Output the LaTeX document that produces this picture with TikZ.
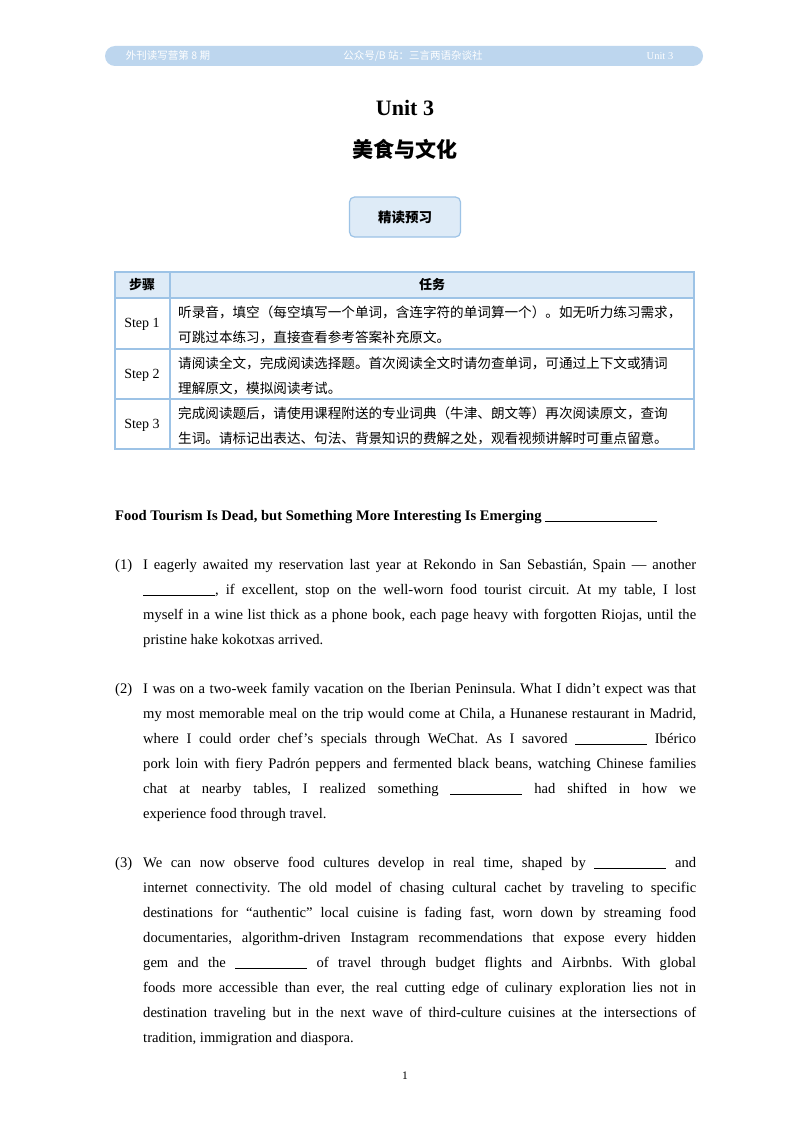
\documentclass[tikz,border=0pt]{standalone}
\usepackage{fontspec}
\setmainfont{Liberation Serif}
\newfontfamily\cjk{Noto Sans CJK SC}
\definecolor{barblue}{RGB}{189,214,238}
\definecolor{lineblue}{RGB}{157,195,230}
\definecolor{fillblue}{RGB}{222,235,247}
\newcommand{\blank}{\rule[-1pt]{72pt}{0.6pt}}
\tikzset{
 para/.style={anchor=north west,text width=553pt,align=justify,inner sep=0pt,font=\fontsize{14.6pt}{25pt}\selectfont\frenchspacing},
 num/.style={anchor=north west,inner sep=0pt,font=\fontsize{14.6pt}{25pt}\selectfont},
 cell/.style={anchor=west,text width=520pt,align=left,inner sep=0pt,font=\cjk\fontsize{13.6pt}{25pt}\selectfont},
 stepl/.style={inner sep=0pt,font=\fontsize{14pt}{15pt}\selectfont}
}
\begin{document}
\begin{tikzpicture}[x=1pt,y=-1pt]
\useasboundingbox (0,0) rectangle (800,1132);
\fill[white] (0,0) rectangle (800,1132);
% header bar
\fill[barblue,rounded corners=10pt] (105,46) rectangle (703,66);
\node[white,font=\cjk\fontsize{10.5pt}{12pt}\selectfont] (h1) at (168,56) {外刊读写营第 8 期};
\node[white,font=\cjk\fontsize{10.5pt}{12pt}\selectfont] (h2) at (413,56) {公众号/B 站：三言两语杂谈社};
\node[white,font=\fontsize{10.5pt}{12pt}\selectfont] (h3) at (660,56) {Unit 3};
% titles
\node[font=\bfseries\fontsize{22pt}{24pt}\selectfont] (t1) at (405,108) {Unit 3};
\node[font=\cjk\bfseries\fontsize{21pt}{24pt}\selectfont] (t2) at (405,149) {美食与文化};
\node[draw=lineblue,line width=1.2pt,fill=fillblue,rounded corners=5pt,minimum width=111pt,minimum height=40pt,font=\cjk\bfseries\fontsize{13.5pt}{15pt}\selectfont] (box) at (405,217) {精读预习};
% table
\fill[fillblue] (115,272) rectangle (694,298);
\draw[lineblue,line width=1.2pt] (115,272) rectangle (694,449);
\draw[lineblue,line width=1.2pt] (170,272) -- (170,449);
\draw[lineblue,line width=1.2pt] (115,298) -- (694,298) (115,349) -- (694,349) (115,399) -- (694,399);
\node[font=\cjk\bfseries\fontsize{13pt}{14pt}\selectfont] (c0) at (142,285) {步骤};
\node[font=\cjk\bfseries\fontsize{13pt}{14pt}\selectfont] (c1) at (432,285) {任务};
\node[stepl] (s1) at (142,324) {Step 1};
\node[stepl] (s2) at (142,375) {Step 2};
\node[stepl] (s3) at (142,425) {Step 3};
\node[cell] (r1) at (178,325) {听录音，填空（每空填写一个单词，含连字符的单词算一个）。如无听力练习需求，\\可跳过本练习，直接查看参考答案补充原文。};
\node[cell] (r2) at (178,376) {请阅读全文，完成阅读选择题。首次阅读全文时请勿查单词，可通过上下文或猜词\\理解原文，模拟阅读考试。};
\node[cell] (r3) at (178,426) {完成阅读题后，请使用课程附送的专业词典（牛津、朗文等）再次阅读原文，查询\\生词。请标记出表达、句法、背景知识的费解之处，观看视频讲解时可重点留意。};
% article title
\node[anchor=west,inner sep=0pt,font=\bfseries\fontsize{14.6pt}{15pt}\selectfont] (at) at (115,517) {Food Tourism Is Dead, but Something More Interesting Is Emerging \rule[-1pt]{112pt}{0.6pt}};
% paragraphs
\node[num] (n1) at (115,559) {(1)};
\node[para] (p1) at (143,559) {I eagerly awaited my reservation last year at Rekondo in San Sebastián, Spain — another\linebreak \blank, if excellent, stop on the well-worn food tourist circuit. At my table, I lost\linebreak myself in a wine list thick as a phone book, each page heavy with forgotten Riojas, until the\linebreak pristine hake kokotxas arrived.};
\node[num] (n2) at (115,683) {(2)};
\node[para] (p2) at (143,683) {I was on a two-week family vacation on the Iberian Peninsula. What I didn’t expect was that\linebreak my most memorable meal on the trip would come at Chila, a Hunanese restaurant in Madrid,\linebreak where I could order chef’s specials through WeChat. As I savored \blank{} Ibérico\linebreak pork loin with fiery Padrón peppers and fermented black beans, watching Chinese families\linebreak chat at nearby tables, I realized something \blank{} had shifted in how we\linebreak experience food through travel.};
\node[num] (n3) at (115,857) {(3)};
\node[para] (p3) at (143,857) {We can now observe food cultures develop in real time, shaped by \blank{} and\linebreak internet connectivity. The old model of chasing cultural cachet by traveling to specific\linebreak destinations for “authentic” local cuisine is fading fast, worn down by streaming food\linebreak documentaries, algorithm-driven Instagram recommendations that expose every hidden\linebreak gem and the \blank{} of travel through budget flights and Airbnbs. With global\linebreak foods more accessible than ever, the real cutting edge of culinary exploration lies not in\linebreak destination traveling but in the next wave of third-culture cuisines at the intersections of\linebreak tradition, immigration and diaspora.};
\node[font=\fontsize{11.5pt}{13pt}\selectfont] (pg) at (405,1076) {1};
\end{tikzpicture}
\end{document}
